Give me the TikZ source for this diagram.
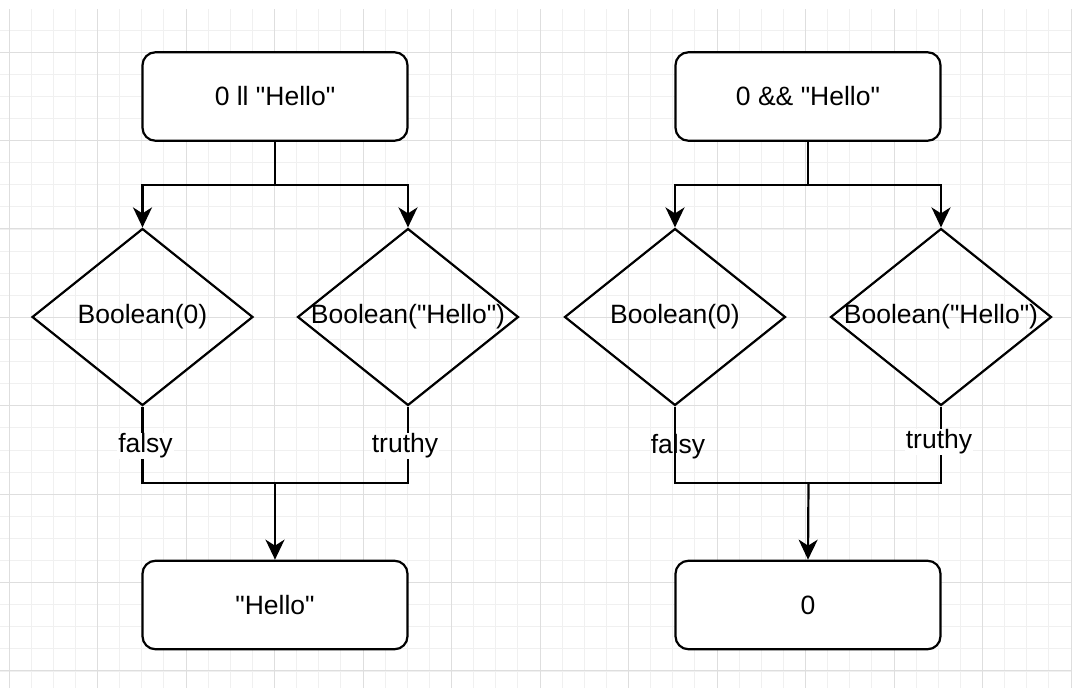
\documentclass[tikz,border=0pt]{standalone}
\usepackage{fontspec}
\setmainfont{Liberation Sans}[Ligatures=TeXOff]
\usetikzlibrary{shapes.geometric,arrows.meta}
\begin{document}
\begin{tikzpicture}[x=1pt,y=-1pt,
  every node/.style={font=\fontsize{26.5}{30}\selectfont},
  box/.style={draw,line width=2.2pt,rounded corners=13pt,minimum width=265pt,minimum height=88.5pt,inner sep=0pt,fill=white},
  dia/.style={draw,line width=2.2pt,shape=diamond,minimum width=221pt,minimum height=177pt,inner sep=0pt},
  conn/.style={line width=2.2pt},
  arr/.style={line width=2.2pt,-{Stealth[length=20pt,width=19pt,inset=6pt]}},
  lbl/.style={fill=white,inner sep=1pt},
  lblclear/.style={inner sep=1pt},
  minorgrid/.style={draw=black!6,line width=1pt},
  majorgrid/.style={draw=black!13,line width=1pt}]
\useasboundingbox (0,0) rectangle (1072,688);
\fill[white] (0,0) rectangle (1072,688);
% grid
\foreach \k in {0,...,48}{\pgfmathsetmacro\xx{9+22.125*\k}\draw[minorgrid] (\xx,9) -- (\xx,688);}
\foreach \k in {1,...,30}{\pgfmathsetmacro\yy{8+22.1*\k}\draw[minorgrid] (0,\yy) -- (1072,\yy);}
\foreach \k in {0,...,12}{\pgfmathsetmacro\xx{9+88.5*\k}\draw[majorgrid] (\xx,9) -- (\xx,688);}
\foreach \k in {0,...,7}{\pgfmathsetmacro\yy{52+88.4*\k}\draw[majorgrid] (0,\yy) -- (1072,\yy);}
% left group
\node[box] (t1) at (275,96.5) {0 ll "Hello"};
\node[dia,label={center:Boolean(0)}] (a1) at (142.5,317) {};
\node[dia,label={center:Boolean("Hello")}] (b1) at (408,317) {};
\node[box] (r1) at (275,605) {"Hello"};
\coordinate (s1) at (275,185);
\coordinate (m1) at (275,483);
\draw[conn] (t1.south) -- (s1);
\draw[arr] (s1) -| (a1.north);
\draw[arr] (s1) -| (b1.north);
\draw[conn] (a1.south) -- (a1.south |- m1) -- (b1.south |- m1) -- (b1.south);
\node[lbl] (f1) at (145.5,446) {falsy};
\node[lbl] (u1) at (405,446) {truthy};
\draw[arr] (m1) -- (r1.north);
% right group
\node[box] (t2) at (808,96.5) {0 \&\& "Hello"};
\node[dia,label={center:Boolean(0)}] (a2) at (675,317) {};
\node[dia,label={center:Boolean("Hello")}] (b2) at (941,317) {};
\node[box] (r2) at (808,605) {0};
\coordinate (s2) at (808,185);
\coordinate (m2) at (808.5,483);
\draw[conn] (t2.south) -- (s2);
\draw[arr] (s2) -| (a2.north);
\draw[arr] (s2) -| (b2.north);
\draw[conn] (a2.south) -- (a2.south |- m2) -- (b2.south |- m2) -- (b2.south);
\node[lbl] (u2) at (939,442) {truthy};
\draw[arr] (m2) -- (r2.north);
\node[lblclear] (f2) at (678,447) {falsy};
\end{tikzpicture}
\end{document}
